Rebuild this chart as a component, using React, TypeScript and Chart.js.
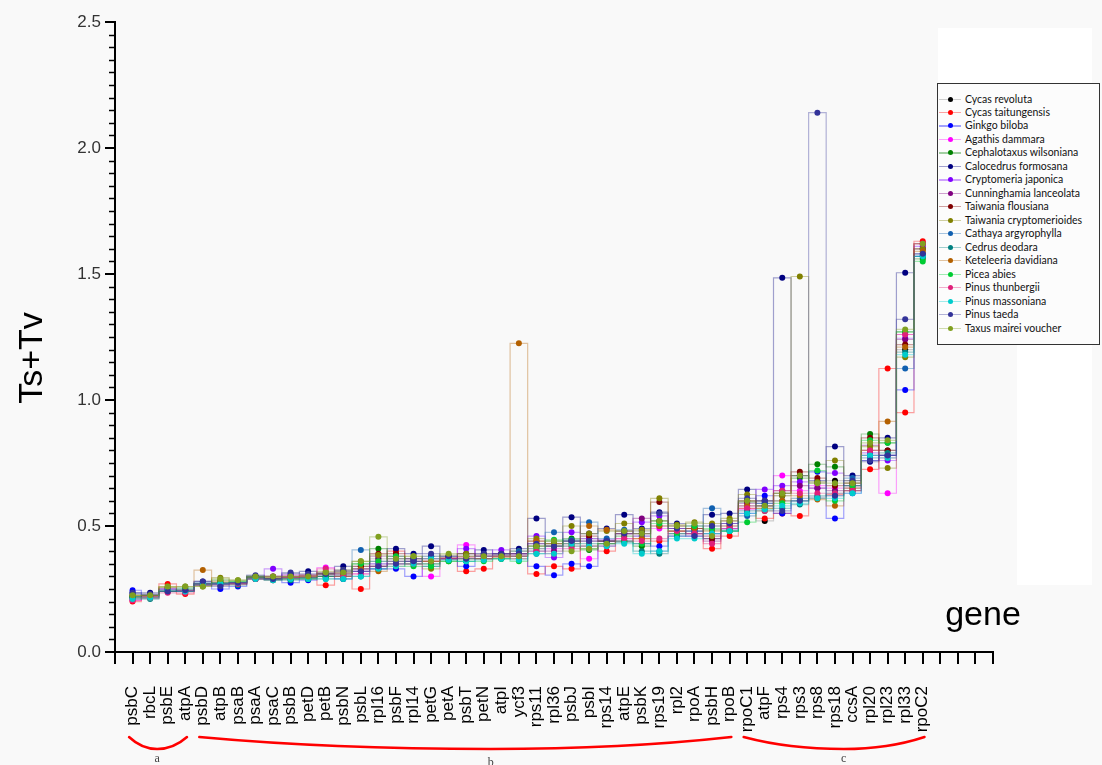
import React, { useEffect, useRef } from 'react';
import { Chart, registerables } from 'chart.js';

Chart.register(...registerables);

// ---------------- data ----------------
const genes = [
  'psbC', 'rbcL', 'psbE', 'atpA', 'psbD', 'atpB', 'psaB', 'psaA', 'psaC', 'psbB',
  'petD', 'petB', 'psbN', 'psbL', 'rpl16', 'psbF', 'rpl14', 'petG', 'petA', 'psbT',
  'petN', 'atpI', 'ycf3', 'rps11', 'rpl36', 'psbJ', 'psbI', 'rps14', 'atpE', 'psbK',
  'rps19', 'rpl2', 'rpoA', 'psbH', 'rpoB', 'rpoC1', 'atpF', 'rps4', 'rps3', 'rps8',
  'rps18', 'ccsA', 'rpl20', 'rpl23', 'rpl33', 'rpoC2',
];

const speciesNames = [
  'Cycas revoluta', 'Cycas taitungensis', 'Ginkgo biloba', 'Agathis dammara',
  'Cephalotaxus wilsoniana', 'Calocedrus formosana', 'Cryptomeria japonica',
  'Cunninghamia lanceolata', 'Taiwania flousiana', 'Taiwania cryptomerioides',
  'Cathaya argyrophylla', 'Cedrus deodara', 'Keteleeria davidiana', 'Picea abies',
  'Pinus thunbergii', 'Pinus massoniana', 'Pinus taeda', 'Taxus mairei voucher',
];

const cycasRevoluta = [0.22,0.225,0.245,0.245,0.27,0.275,0.275,0.295,0.29,0.30, 0.30,0.30,0.31,0.34,0.37,0.38,0.37,0.38,0.38,0.38, 0.39,0.39,0.39,0.42,0.43,0.44,0.45,0.44,0.48,0.48, 0.52,0.50,0.49,0.50,0.51,0.60,0.52,0.62,0.70,0.67, 0.68,0.67,0.80,0.80,1.20,1.60];
const cycasTaitungensis = [0.20,0.215,0.27,0.23,0.27,0.27,0.27,0.29,0.285,0.29, 0.29,0.265,0.30,0.25,0.34,0.40,0.36,0.36,0.37,0.32, 0.33,0.38,0.37,0.31,0.34,0.33,0.42,0.40,0.44,0.45, 0.44,0.48,0.47,0.41,0.46,0.57,0.53,0.55,0.54,0.61, 0.625,0.64,0.725,1.125,0.95,1.63];
const ginkgoBiloba = [0.245,0.225,0.25,0.24,0.27,0.25,0.26,0.295,0.29,0.275, 0.285,0.30,0.29,0.32,0.33,0.33,0.30,0.34,0.37,0.34, 0.37,0.38,0.38,0.34,0.305,0.35,0.34,0.43,0.44,0.43, 0.42,0.46,0.46,0.45,0.49,0.55,0.62,0.55,0.60,0.715, 0.53,0.63,0.76,0.78,1.04,1.57];
const agathisDammara = [0.205,0.215,0.25,0.24,0.265,0.27,0.275,0.29,0.30,0.305, 0.305,0.335,0.32,0.31,0.35,0.36,0.35,0.30,0.37,0.425, 0.38,0.38,0.38,0.41,0.41,0.42,0.37,0.42,0.45,0.46, 0.49,0.47,0.47,0.46,0.49,0.565,0.58,0.70,0.64,0.66, 0.65,0.66,0.78,0.63,1.26,1.62];
const cephalotaxusWilsoniana = [0.22,0.225,0.255,0.255,0.27,0.285,0.28,0.30,0.295,0.295, 0.295,0.31,0.32,0.35,0.41,0.37,0.35,0.35,0.36,0.37, 0.37,0.37,0.38,0.42,0.44,0.45,0.405,0.44,0.46,0.42, 0.52,0.48,0.48,0.485,0.48,0.595,0.60,0.63,0.69,0.745, 0.735,0.66,0.865,0.83,1.27,1.56];
const calocedrusFormosana = [0.235,0.235,0.24,0.245,0.28,0.27,0.275,0.30,0.29,0.31, 0.32,0.31,0.34,0.33,0.33,0.41,0.39,0.42,0.38,0.39, 0.405,0.39,0.41,0.53,0.42,0.535,0.47,0.49,0.545,0.49, 0.555,0.51,0.50,0.545,0.55,0.645,0.59,1.485,0.70,0.68, 0.815,0.70,0.755,0.85,1.505,1.58];
const cryptomeriaJaponica = [0.22,0.225,0.25,0.245,0.27,0.27,0.275,0.295,0.33,0.295, 0.30,0.315,0.31,0.33,0.36,0.37,0.36,0.37,0.37,0.41, 0.38,0.405,0.39,0.46,0.375,0.475,0.45,0.445,0.47,0.515, 0.54,0.49,0.48,0.47,0.51,0.58,0.645,0.66,0.675,0.65, 0.71,0.66,0.79,0.76,1.245,1.61];
const cunninghamiaLanceolata = [0.21,0.22,0.24,0.24,0.265,0.275,0.275,0.295,0.30,0.30, 0.305,0.31,0.315,0.32,0.38,0.38,0.37,0.36,0.37,0.39, 0.38,0.39,0.385,0.43,0.40,0.43,0.44,0.44,0.47,0.53, 0.50,0.49,0.49,0.44,0.50,0.59,0.60,0.64,0.66,0.65, 0.64,0.65,0.82,0.78,1.24,1.60];
const taiwaniaFlousiana = [0.215,0.22,0.245,0.24,0.27,0.27,0.27,0.29,0.29,0.29, 0.295,0.30,0.30,0.34,0.39,0.39,0.37,0.37,0.375,0.38, 0.385,0.385,0.39,0.44,0.43,0.44,0.46,0.44,0.48,0.47, 0.595,0.50,0.49,0.45,0.52,0.60,0.58,0.63,0.715,0.69, 0.66,0.67,0.85,0.80,1.22,1.62];
const taiwaniaCryptomerioides = [0.225,0.225,0.26,0.26,0.26,0.295,0.285,0.30,0.30,0.30, 0.305,0.32,0.325,0.36,0.385,0.36,0.38,0.33,0.385,0.39, 0.37,0.38,0.40,0.45,0.43,0.50,0.47,0.48,0.51,0.485, 0.61,0.505,0.515,0.51,0.53,0.625,0.57,0.62,1.49,0.675, 0.76,0.68,0.815,0.73,1.17,1.60];
const cathayaArgyrophylla = [0.23,0.225,0.245,0.25,0.275,0.27,0.27,0.30,0.29,0.295, 0.295,0.30,0.305,0.405,0.35,0.36,0.37,0.38,0.37,0.37, 0.38,0.385,0.40,0.40,0.475,0.44,0.515,0.45,0.485,0.46, 0.40,0.47,0.48,0.57,0.485,0.54,0.59,0.60,0.61,0.615, 0.62,0.69,0.77,0.78,1.125,1.57];
const cedrusDeodara = [0.215,0.21,0.24,0.24,0.265,0.265,0.265,0.29,0.285,0.285, 0.29,0.29,0.29,0.30,0.34,0.35,0.36,0.35,0.365,0.36, 0.37,0.37,0.37,0.39,0.42,0.445,0.43,0.43,0.435,0.40, 0.39,0.46,0.47,0.47,0.48,0.56,0.58,0.57,0.585,0.62, 0.63,0.64,0.78,0.79,1.19,1.57];
const keteleeriaDavidiana = [0.225,0.225,0.255,0.245,0.325,0.28,0.275,0.295,0.295,0.295, 0.30,0.31,0.31,0.33,0.32,0.34,0.35,0.36,0.37,0.37, 0.37,0.375,1.225,0.44,0.42,0.43,0.50,0.485,0.47,0.45, 0.50,0.48,0.49,0.48,0.50,0.58,0.57,0.60,0.62,0.605, 0.58,0.65,0.80,0.915,1.21,1.59];
const piceaAbies = [0.22,0.215,0.24,0.25,0.265,0.275,0.28,0.295,0.29,0.29, 0.29,0.30,0.30,0.35,0.36,0.38,0.34,0.34,0.36,0.36, 0.36,0.37,0.36,0.41,0.445,0.42,0.41,0.43,0.44,0.43, 0.51,0.47,0.50,0.49,0.48,0.515,0.56,0.59,0.60,0.72, 0.60,0.66,0.84,0.83,1.27,1.55];
const pinusThunbergii = [0.205,0.215,0.235,0.235,0.265,0.265,0.27,0.29,0.29,0.295, 0.30,0.33,0.30,0.31,0.34,0.35,0.35,0.36,0.37,0.375, 0.37,0.38,0.38,0.40,0.39,0.41,0.42,0.42,0.45,0.44, 0.45,0.48,0.47,0.43,0.49,0.57,0.56,0.64,0.63,0.63, 0.63,0.64,0.80,0.77,1.26,1.62];
const pinusMassoniana = [0.21,0.215,0.245,0.24,0.27,0.27,0.275,0.29,0.285,0.29, 0.29,0.29,0.29,0.30,0.33,0.34,0.35,0.37,0.365,0.36, 0.365,0.37,0.365,0.39,0.39,0.43,0.42,0.42,0.43,0.39, 0.40,0.45,0.45,0.47,0.48,0.55,0.565,0.58,0.59,0.61, 0.61,0.63,0.78,0.77,1.18,1.57];
const pinusTaeda = [0.235,0.23,0.24,0.245,0.28,0.26,0.275,0.305,0.29,0.315, 0.31,0.31,0.325,0.32,0.34,0.35,0.36,0.39,0.38,0.37, 0.39,0.39,0.39,0.43,0.42,0.44,0.44,0.44,0.47,0.47, 0.55,0.49,0.46,0.50,0.51,0.61,0.60,0.56,0.60,2.14, 0.62,0.68,0.76,0.78,1.32,1.58];
const taxusMaireiVoucher = [0.225,0.225,0.26,0.26,0.26,0.29,0.285,0.30,0.30,0.30, 0.30,0.315,0.315,0.36,0.457,0.37,0.38,0.36,0.39,0.38, 0.38,0.38,0.38,0.42,0.44,0.40,0.41,0.43,0.48,0.47, 0.52,0.50,0.51,0.46,0.52,0.60,0.58,0.63,0.70,0.67, 0.67,0.67,0.83,0.84,1.28,1.62];

const seriesValues = [
  cycasRevoluta, cycasTaitungensis, ginkgoBiloba, agathisDammara, cephalotaxusWilsoniana,
  calocedrusFormosana, cryptomeriaJaponica, cunninghamiaLanceolata, taiwaniaFlousiana,
  taiwaniaCryptomerioides, cathayaArgyrophylla, cedrusDeodara, keteleeriaDavidiana,
  piceaAbies, pinusThunbergii, pinusMassoniana, pinusTaeda, taxusMaireiVoucher,
];

const yTickValues = [0, 0.5, 1.0, 1.5, 2.0, 2.5];

const geneGroups = [
  { label: 'a', from: 0, to: 3, mid: 1.4 },
  { label: 'b', from: 4, to: 34, mid: 20.4 },
  { label: 'c', from: 35, to: 45, mid: 40.5 },
];

// ---------------- styles ----------------
const pointColors = [
  '#000000', '#ff0000', '#0000ff', '#ff00ff', '#008000', '#000080', '#8000ff', '#800080',
  '#800000', '#808000', '#1060b0', '#008080', '#b36000', '#00cc33', '#e0207a', '#00cccc',
  '#333399', '#80a020',
];

function hexToRgba(hex: string, a: number) {
  const n = parseInt(hex.slice(1), 16);
  return `rgba(${(n >> 16) & 255},${(n >> 8) & 255},${n & 255},${a})`;
}

const lineColors = pointColors.map((c, i) => (i === 0 ? 'rgba(150,150,150,0.45)' : hexToRgba(c, 0.36)));

const SANS = '"Liberation Sans", Arial, sans-serif';

const decorPlugin = {
  id: 'decor',
  afterDraw(chart: any) {
    const ctx = chart.ctx as CanvasRenderingContext2D;
    const xs = chart.scales.x;
    const ys = chart.scales.y;
    const area = chart.chartArea;
    ctx.save();
    // minor y ticks
    ctx.strokeStyle = '#000';
    ctx.lineWidth = 1.5;
    for (let k = 0; k <= 50; k++) {
      if (k % 10 === 0) continue;
      const y = Math.round(ys.getPixelForValue(k * 0.05)) + 0.5;
      ctx.beginPath();
      ctx.moveTo(area.left - 6, y);
      ctx.lineTo(area.left, y);
      ctx.stroke();
    }
    // brackets
    const yTop = area.bottom + 85;
    const yBot = area.bottom + 97;
    ctx.strokeStyle = '#ff0000';
    ctx.lineWidth = 2.5;
    ctx.lineCap = 'round';
    geneGroups.forEach((g) => {
      const xl = xs.getPixelForValue(g.from - 0.2);
      const xr = xs.getPixelForValue(g.to + 0.1);
      const xm = xs.getPixelForValue(g.mid);
      ctx.beginPath();
      ctx.moveTo(xl, yTop);
      ctx.quadraticCurveTo(xl + (xm - xl) * 0.45, yBot, xm, yBot);
      ctx.quadraticCurveTo(xm + (xr - xm) * 0.55, yBot, xr, yTop);
      ctx.stroke();
      ctx.fillStyle = '#444';
      ctx.font = '12px "Liberation Serif", serif';
      ctx.textAlign = 'center';
      ctx.textBaseline = 'alphabetic';
      ctx.fillText(g.label, xm, g.label === 'b' ? yBot + 17 : yBot + 13);
    });
    // axis titles
    ctx.fillStyle = '#000';
    ctx.font = `34px ${SANS}`;
    ctx.textAlign = 'center';
    ctx.textBaseline = 'alphabetic';
    ctx.fillText('gene', area.right - 10, area.bottom - 27);
    ctx.translate(42, 358);
    ctx.rotate(-Math.PI / 2);
    ctx.fillText('Ts+Tv', 0, 0);
    ctx.restore();
  },
};

export default function App() {
  const ref = useRef<HTMLCanvasElement>(null);

  useEffect(() => {
    const canvas = ref.current;
    if (!canvas) return;
    const datasets = speciesNames.map((name, si) => ({
      label: name,
      data: seriesValues[si].map((v, i) => ({ x: i, y: v })),
      order: -si,
      borderColor: lineColors[si],
      backgroundColor: pointColors[si],
      pointBackgroundColor: pointColors[si],
      pointBorderColor: pointColors[si],
      pointRadius: 3,
      pointBorderWidth: 0,
      borderWidth: 1.2,
      stepped: 'middle' as const,
      fill: false,
    }));
    const chart = new Chart(canvas, {
      type: 'line',
      data: { datasets },
      options: {
        responsive: false,
        animation: false,
        layout: { padding: { left: 0, right: 109, top: 22, bottom: 0 } },
        plugins: { legend: { display: false }, tooltip: { enabled: false } },
        scales: {
          x: {
            type: 'linear',
            min: -1,
            max: 49,
            afterFit: (s: any) => { s.height = 113; },
            border: { display: true, color: '#000', width: 2 },
            grid: { drawOnChartArea: false, drawTicks: true, tickLength: 12, color: '#000', lineWidth: 2 },
            ticks: {
              stepSize: 1,
              autoSkip: false,
              maxRotation: 90,
              minRotation: 90,
              padding: 22,
              color: '#000',
              font: { family: SANS, size: 17 },
              callback: (v: any) => (Number.isInteger(v) && v >= 0 && v < genes.length ? genes[v] : ''),
            },
          },
          y: {
            min: 0,
            max: 2.5,
            afterFit: (s: any) => { s.width = 115; },
            afterBuildTicks: (s: any) => { s.ticks = yTickValues.map((value) => ({ value })); },
            border: { display: true, color: '#000', width: 2 },
            grid: { drawOnChartArea: false, drawTicks: true, tickLength: 10, color: '#000', lineWidth: 2 },
            ticks: {
              padding: 4,
              color: '#333',
              font: { family: SANS, size: 17 },
              callback: (v: any) => Number(v).toFixed(1),
            },
          },
        },
      },
      plugins: [decorPlugin],
    } as any);
    return () => chart.destroy();
  }, []);

  return (
    <div style={{ position: 'absolute', left: 0, top: 0, width: 1102, height: 765, background: '#f9f9f9', overflow: 'hidden' }}>
      <div style={{ position: 'absolute', left: 938, top: 28, width: 154, height: 60, background: '#ffffff' }} />
      <div style={{ position: 'absolute', left: 1017, top: 28, width: 75, height: 557, background: '#ffffff' }} />
      <canvas ref={ref} width={1102} height={765} style={{ position: 'absolute', left: 0, top: 0, width: 1102, height: 765 }} />
      <div
        style={{
          position: 'absolute', left: 937, top: 83, width: 161, height: 260,
          border: '1px solid #333', background: '#fcfcfc', boxSizing: 'content-box',
        }}
      >
        {speciesNames.map((name, i) => (
          <div key={name} style={{ position: 'absolute', left: 0, top: 8.3 + i * 13.47, height: 13.47, width: 161, display: 'flex', alignItems: 'center' }}>
            <div style={{ position: 'relative', width: 24, height: 13 }}>
              <div style={{ position: 'absolute', left: 1, right: 1, top: 6, height: 1.2, background: lineColors[i] }} />
              <div style={{ position: 'absolute', left: 9.5, top: 4, width: 5, height: 5, borderRadius: '50%', background: pointColors[i] }} />
            </div>
            <span style={{ marginLeft: 3, font: '10.5px Lato, "Open Sans", sans-serif', color: '#111', whiteSpace: 'nowrap', lineHeight: '13px' }}>{name}</span>
          </div>
        ))}
      </div>
    </div>
  );
}
